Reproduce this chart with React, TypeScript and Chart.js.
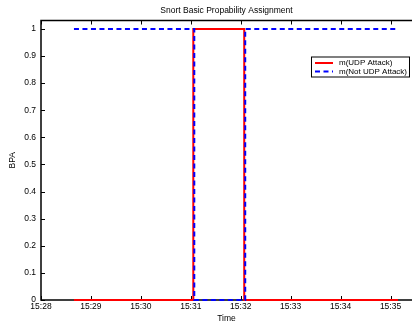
import { useEffect, useRef } from "react";
import { Chart, registerables } from "chart.js";
Chart.register(...registerables);

const titleText = "Snort Basic Propability Assignment";
const xTitle = "Time";
const yTitle = "BPA";
// minutes after 15:28
const xTickMinutes = [0, 1, 2, 3, 4, 5, 6, 7];
const xTickLabels = ["15:28", "15:29", "15:30", "15:31", "15:32", "15:33", "15:34", "15:35"];
const yTickValues = [0, 0.1, 0.2, 0.3, 0.4, 0.5, 0.6, 0.7, 0.8, 0.9, 1];
const yTickLabels = ["0", "0.1", "0.2", "0.3", "0.4", "0.5", "0.6", "0.7", "0.8", "0.9", "1"];
const seriesNames = ["m(UDP Attack)", "m(Not UDP Attack)"];
const udpTimes = [0.66, 3.05, 3.05, 4.07, 4.07, 7.15];
const udpValues = [0, 0, 1, 1, 0, 0];
const notUdpTimes = [0.66, 3.07, 3.07, 4.09, 4.09, 7.15];
const notUdpValues = [1, 1, 0, 0, 1, 1];
const xMin = 0;
const xMax = 7.43;
const yMin = 0;
const yMax = 1.031;

const FONT = "'Liberation Sans', Arial, Helvetica, sans-serif";
const RED = "#ff0000";
const BLUE = "#0000ff";

const framePlugin = {
  id: "frame",
  beforeDatasetsDraw(chart: any) {
    const { ctx, chartArea: a, scales } = chart;
    const x = scales.x;
    const y = scales.y;
    ctx.save();
    ctx.strokeStyle = "#000";
    ctx.lineWidth = 1;
    ctx.beginPath();
    for (const v of xTickMinutes) {
      const px = Math.round(x.getPixelForValue(v)) + 0.5;
      ctx.moveTo(px, a.bottom);
      ctx.lineTo(px, a.bottom - 4);
      ctx.moveTo(px, a.top);
      ctx.lineTo(px, a.top + 4);
    }
    for (const v of yTickValues) {
      const py = Math.round(y.getPixelForValue(v)) + 0.5;
      ctx.moveTo(a.left, py);
      ctx.lineTo(a.left + 4, py);
    }
    ctx.stroke();
    ctx.lineWidth = 1.5;
    ctx.beginPath();
    ctx.moveTo(a.right, a.top);
    ctx.lineTo(a.left, a.top);
    ctx.lineTo(a.left, a.bottom);
    ctx.lineTo(a.right, a.bottom);
    ctx.stroke();
    ctx.restore();
  },
  afterDraw(chart: any) {
    const { ctx, chartArea: a } = chart;
    ctx.save();
    ctx.font = `8px ${FONT}`;
    const w = Math.max(...seriesNames.map((s) => ctx.measureText(s).width));
    const right = a.right - 2;
    const left = right - (w + 4 + 18 + 6 + 3);
    const top = a.top + 36;
    const rowH = 8.5;
    const bottom = top + 21;
    ctx.fillStyle = "#fff";
    ctx.fillRect(left, top, right - left, bottom - top);
    ctx.strokeStyle = "#000";
    ctx.lineWidth = 1;
    ctx.strokeRect(left + 0.5, top + 0.5, right - left - 1, bottom - top - 1);
    const colors = [RED, BLUE];
    const dashes = [[], [5, 3.5]];
    seriesNames.forEach((name, i) => {
      const cy = top + 6.5 + rowH * i;
      ctx.strokeStyle = colors[i];
      ctx.lineWidth = 2;
      ctx.setLineDash(dashes[i]);
      ctx.beginPath();
      ctx.moveTo(left + 4, cy);
      ctx.lineTo(left + 22, cy);
      ctx.stroke();
      ctx.setLineDash([]);
      ctx.fillStyle = "#000";
      ctx.textBaseline = "middle";
      ctx.textAlign = "left";
      ctx.fillText(name, left + 28, cy);
    });
    ctx.restore();
  },
};

export default function App() {
  const ref = useRef<HTMLCanvasElement>(null);
  useEffect(() => {
    if (!ref.current) return;
    const chart = new Chart(ref.current, {
      type: "line",
      data: {
        datasets: [
          {
            label: seriesNames[0],
            data: udpTimes.map((t, i) => ({ x: t, y: udpValues[i] })),
            borderColor: RED,
            borderWidth: 2,
            pointRadius: 0,
            tension: 0,
            clip: false as any,
            order: 2,
          },
          {
            label: seriesNames[1],
            data: notUdpTimes.map((t, i) => ({ x: t, y: notUdpValues[i] })),
            borderColor: BLUE,
            borderWidth: 2,
            borderDash: [5, 3.5],
            pointRadius: 0,
            tension: 0,
            clip: false as any,
            order: 1,
          },
        ],
      },
      options: {
        animation: false,
        responsive: false,
        layout: { padding: { left: 0, right: 0, top: 0, bottom: 0 } },
        plugins: {
          legend: { display: false },
          tooltip: { enabled: false },
          title: {
            display: true,
            text: titleText,
            color: "#000",
            fullSize: false,
            font: { family: FONT, size: 8.5, weight: "normal" },
            padding: { top: 6, bottom: 4.3 },
          },
        },
        scales: {
          x: {
            type: "linear",
            min: xMin,
            max: xMax,
            afterFit: (s: any) => {
              s.height = 24;
            },
            afterBuildTicks: (s: any) => {
              s.ticks = xTickMinutes.map((v) => ({ value: v }));
            },
            grid: { display: false, drawTicks: false, tickLength: 0 },
            border: { display: false },
            ticks: {
              color: "#000",
              padding: 2,
              maxRotation: 0,
              autoSkip: false,
              font: { family: FONT, size: 8.5 },
              callback: (v: any) => xTickLabels[xTickMinutes.indexOf(Number(v))] ?? "",
            },
            title: {
              display: true,
              text: xTitle,
              color: "#000",
              font: { family: FONT, size: 8.5 },
              padding: { top: 0, bottom: 0 },
            },
          },
          y: {
            type: "linear",
            min: yMin,
            max: yMax,
            afterFit: (s: any) => {
              s.width = 41;
            },
            afterBuildTicks: (s: any) => {
              s.ticks = yTickValues.map((v) => ({ value: v }));
            },
            grid: { display: false, drawTicks: false, tickLength: 0 },
            border: { display: false },
            ticks: {
              color: "#000",
              padding: 5,
              autoSkip: false,
              font: { family: FONT, size: 8.5 },
              callback: (v: any) => {
                const i = yTickValues.findIndex((t) => Math.abs(t - Number(v)) < 1e-9);
                return i >= 0 ? yTickLabels[i] : "";
              },
            },
            title: {
              display: true,
              text: yTitle,
              color: "#000",
              font: { family: FONT, size: 8.5 },
              padding: { top: 8, bottom: 0 },
            },
          },
        },
      },
      plugins: [framePlugin],
    });
    return () => chart.destroy();
  }, []);
  return (
    <div style={{ position: "absolute", left: 0, top: 0, width: 412, height: 324, background: "#fff" }}>
      <canvas ref={ref} width={412} height={324} style={{ display: "block" }} />
    </div>
  );
}
